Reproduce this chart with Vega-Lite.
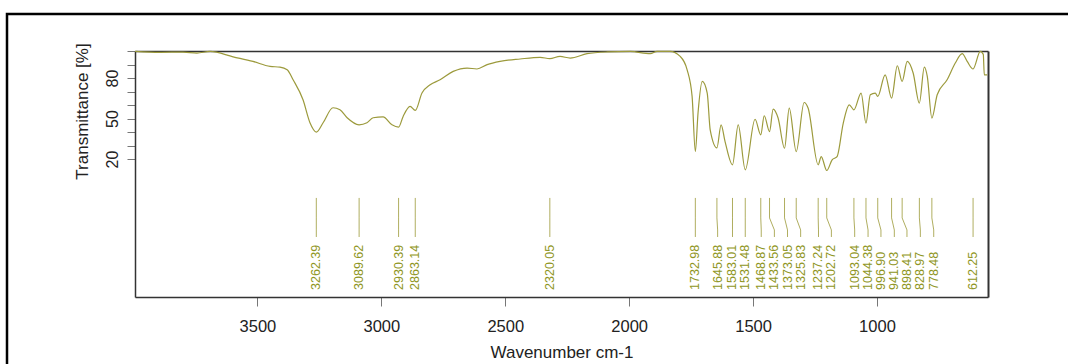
{
  "$schema": "https://vega.github.io/schema/vega-lite/v6.json",
  "width": 1075,
  "height": 360,
  "autosize": {"type": "none"},
  "padding": {"left": 7, "top": 14, "right": 0, "bottom": 0},
  "background": "white",
  "config": {
    "view": {"stroke": "#000000", "strokeWidth": 2.5},
    "font": "Liberation Sans",
    "axis": {"grid": false}
  },
  "datasets": {
    "spectrum": [
      {"wn": 3994, "t": 99.7}, {"wn": 3893, "t": 99.0}, {"wn": 3800, "t": 99.2}, {"wn": 3744, "t": 98.5},
      {"wn": 3691, "t": 99.7}, {"wn": 3598, "t": 95.7}, {"wn": 3518, "t": 92.3}, {"wn": 3449, "t": 88.6},
      {"wn": 3409, "t": 88.1}, {"wn": 3380, "t": 86.1}, {"wn": 3356, "t": 78.7}, {"wn": 3316, "t": 63.9},
      {"wn": 3288, "t": 46.9}, {"wn": 3262.39, "t": 40.0}, {"wn": 3235, "t": 46.9}, {"wn": 3195, "t": 58.0},
      {"wn": 3167, "t": 56.5}, {"wn": 3138, "t": 50.6}, {"wn": 3090, "t": 45.4}, {"wn": 3058, "t": 46.9},
      {"wn": 3033, "t": 50.6}, {"wn": 2993, "t": 51.3}, {"wn": 2957, "t": 45.4}, {"wn": 2930.39, "t": 43.7},
      {"wn": 2912, "t": 51.6}, {"wn": 2884, "t": 59.0}, {"wn": 2863.14, "t": 56.0}, {"wn": 2836, "t": 68.9},
      {"wn": 2803, "t": 75.0}, {"wn": 2763, "t": 78.7}, {"wn": 2710, "t": 84.9}, {"wn": 2654, "t": 87.4},
      {"wn": 2614, "t": 86.7}, {"wn": 2573, "t": 89.9}, {"wn": 2521, "t": 92.3}, {"wn": 2440, "t": 94.1},
      {"wn": 2359, "t": 95.3}, {"wn": 2320.05, "t": 94.3}, {"wn": 2279, "t": 96.0}, {"wn": 2238, "t": 94.8},
      {"wn": 2170, "t": 98.0}, {"wn": 2089, "t": 99.3}, {"wn": 1996, "t": 99.7}, {"wn": 1915, "t": 98.0},
      {"wn": 1887, "t": 99.7}, {"wn": 1835, "t": 99.7}, {"wn": 1794, "t": 96.0}, {"wn": 1766, "t": 86.1},
      {"wn": 1746, "t": 66.4}, {"wn": 1732.98, "t": 25.6}, {"wn": 1722, "t": 54.3}, {"wn": 1705, "t": 77.5},
      {"wn": 1685, "t": 68.9}, {"wn": 1673, "t": 41.7}, {"wn": 1645.88, "t": 28.4}, {"wn": 1629, "t": 45.4},
      {"wn": 1613, "t": 33.0}, {"wn": 1583.01, "t": 15.8}, {"wn": 1560, "t": 45.4}, {"wn": 1531.48, "t": 12.1},
      {"wn": 1492, "t": 49.5}, {"wn": 1468.87, "t": 38.0}, {"wn": 1455, "t": 52.1}, {"wn": 1433.56, "t": 40.4},
      {"wn": 1419, "t": 57.0}, {"wn": 1399, "t": 50.4}, {"wn": 1373.05, "t": 28.1}, {"wn": 1354, "t": 57.8},
      {"wn": 1325.83, "t": 25.6}, {"wn": 1294, "t": 61.9}, {"wn": 1278, "t": 57.8}, {"wn": 1237.24, "t": 15.8},
      {"wn": 1225, "t": 21.9}, {"wn": 1202.72, "t": 11.6}, {"wn": 1181, "t": 19.5}, {"wn": 1161, "t": 21.9},
      {"wn": 1136, "t": 46.7}, {"wn": 1112, "t": 60.2}, {"wn": 1093.04, "t": 56.5}, {"wn": 1064, "t": 68.9},
      {"wn": 1044.38, "t": 46.7}, {"wn": 1027, "t": 67.6}, {"wn": 1007, "t": 68.9}, {"wn": 996.9, "t": 66.4},
      {"wn": 967, "t": 82.4}, {"wn": 941.03, "t": 65.2}, {"wn": 918, "t": 89.1}, {"wn": 898.41, "t": 77.5},
      {"wn": 878, "t": 92.3}, {"wn": 854, "t": 83.7}, {"wn": 828.97, "t": 61.5}, {"wn": 809, "t": 88.1},
      {"wn": 797, "t": 81.2}, {"wn": 778.48, "t": 50.4}, {"wn": 757, "t": 67.6}, {"wn": 717, "t": 78.7},
      {"wn": 684, "t": 91.1}, {"wn": 656, "t": 98.0}, {"wn": 636, "t": 92.3}, {"wn": 612.25, "t": 86.7},
      {"wn": 583, "t": 99.7}, {"wn": 571, "t": 97.5}, {"wn": 567, "t": 82.4}, {"wn": 555, "t": 82.4}
    ],
    "peaks": [
      {"wn": 3262.39, "lx": 3262.39, "label": "3262.39"},
      {"wn": 3089.62, "lx": 3089.62, "label": "3089.62"},
      {"wn": 2930.39, "lx": 2930.39, "label": "2930.39"},
      {"wn": 2863.14, "lx": 2863.14, "label": "2863.14"},
      {"wn": 2320.05, "lx": 2320.05, "label": "2320.05"},
      {"wn": 1732.98, "lx": 1732.98, "label": "1732.98"},
      {"wn": 1645.88, "lx": 1643, "label": "1645.88"},
      {"wn": 1583.01, "lx": 1583.01, "label": "1583.01"},
      {"wn": 1531.48, "lx": 1531.48, "label": "1531.48"},
      {"wn": 1468.87, "lx": 1467, "label": "1468.87"},
      {"wn": 1433.56, "lx": 1414, "label": "1433.56"},
      {"wn": 1373.05, "lx": 1361, "label": "1373.05"},
      {"wn": 1325.83, "lx": 1308, "label": "1325.83"},
      {"wn": 1237.24, "lx": 1236, "label": "1237.24"},
      {"wn": 1202.72, "lx": 1184, "label": "1202.72"},
      {"wn": 1093.04, "lx": 1090, "label": "1093.04"},
      {"wn": 1044.38, "lx": 1036, "label": "1044.38"},
      {"wn": 996.9, "lx": 984, "label": "996.90"},
      {"wn": 941.03, "lx": 930, "label": "941.03"},
      {"wn": 898.41, "lx": 879, "label": "898.41"},
      {"wn": 828.97, "lx": 825, "label": "828.97"},
      {"wn": 778.48, "lx": 771, "label": "778.48"},
      {"wn": 612.25, "lx": 612.25, "label": "612.25"}
    ]
  },
  "resolve": {"axis": {"x": "independent", "y": "independent"}},
  "layer": [
    {
      "data": {"name": "spectrum"},
      "mark": {"type": "line", "interpolate": "monotone", "color": "#9c9a3c", "strokeWidth": 1.2},
      "encoding": {
        "x": {
          "field": "wn", "type": "quantitative",
          "scale": {"domain": [3994, 552], "range": [128, 981], "nice": false, "zero": false},
          "axis": {
            "orient": "bottom", "offset": -77,
            "values": [1000, 1500, 2000, 2500, 3000, 3500], "format": "d",
            "title": "Wavenumber cm-1", "titleFontSize": 17, "titleFontWeight": "normal", "titleColor": "#222222",
            "titleY": 60, "titleBaseline": "alphabetic",
            "labelFontSize": 16.5, "labelColor": "#222222", "labelBaseline": "alphabetic", "labelPadding": 25,
            "labelAngle": 0, "labelFlush": false, "labelOverlap": false,
            "tickSize": 9, "tickColor": "#777777", "domainColor": "#333333", "domainWidth": 1.5
          }
        },
        "y": {
          "field": "t", "type": "quantitative",
          "scale": {"domain": [-82, 100], "range": [283, 37], "nice": false, "zero": false},
          "axis": {
            "orient": "left", "offset": -128,
            "values": [20, 30, 40, 50, 60, 70, 80, 90, 100],
            "labelExpr": "datum.value == 20 || datum.value == 50 || datum.value == 80 ? datum.label : ''",
            "labelAngle": -90, "labelAlign": "center", "labelBaseline": "alphabetic", "labelPadding": 10,
            "labelFontSize": 16, "labelColor": "#222222", "labelOverlap": false, "labelFlush": false,
            "tickSize": 8, "tickColor": "#777777", "domainColor": "#333333", "domainWidth": 1.5,
            "title": "Transmittance [%]", "titleFontSize": 17, "titleFontWeight": "normal", "titleColor": "#222222",
            "titleAngle": -90, "titleAlign": "center", "titleBaseline": "middle", "titleX": -53, "titleY": 97
          }
        },
        "order": {"field": "wn", "sort": "descending"}
      }
    },
    {
      "data": {"name": "peaks"},
      "mark": {"type": "rule", "color": "#b0ae60", "strokeWidth": 1},
      "encoding": {
        "x": {
          "field": "wn", "type": "quantitative",
          "axis": {"orient": "top", "offset": -37, "ticks": false, "labels": false, "title": null, "domainColor": "#333333", "domainWidth": 1.5}
        },
        "y": {
          "datum": -8.7, "type": "quantitative",
          "axis": {"orient": "right", "offset": -94, "ticks": false, "labels": false, "title": null, "domainColor": "#333333", "domainWidth": 2}
        },
        "y2": {"datum": -23.5}
      }
    },
    {
      "data": {"name": "peaks"},
      "mark": {"type": "rule", "color": "#b0ae60", "strokeWidth": 1},
      "encoding": {
        "x": {"field": "wn", "type": "quantitative", "axis": null},
        "x2": {"field": "lx"},
        "y": {"datum": -23.5, "type": "quantitative", "axis": null},
        "y2": {"datum": -32.4}
      }
    },
    {
      "data": {"name": "peaks"},
      "mark": {"type": "rule", "color": "#b0ae60", "strokeWidth": 1},
      "encoding": {
        "x": {"field": "lx", "type": "quantitative", "axis": null},
        "y": {"datum": -32.4, "type": "quantitative", "axis": null},
        "y2": {"datum": -37.6}
      }
    },
    {
      "data": {"name": "peaks"},
      "mark": {"type": "text", "angle": 270, "align": "left", "baseline": "middle", "fontSize": 12.5, "color": "#8f9624"},
      "encoding": {
        "x": {"field": "lx", "type": "quantitative", "axis": null},
        "y": {"datum": -76.8, "type": "quantitative", "axis": null},
        "text": {"field": "label"}
      }
    }
  ]
}
